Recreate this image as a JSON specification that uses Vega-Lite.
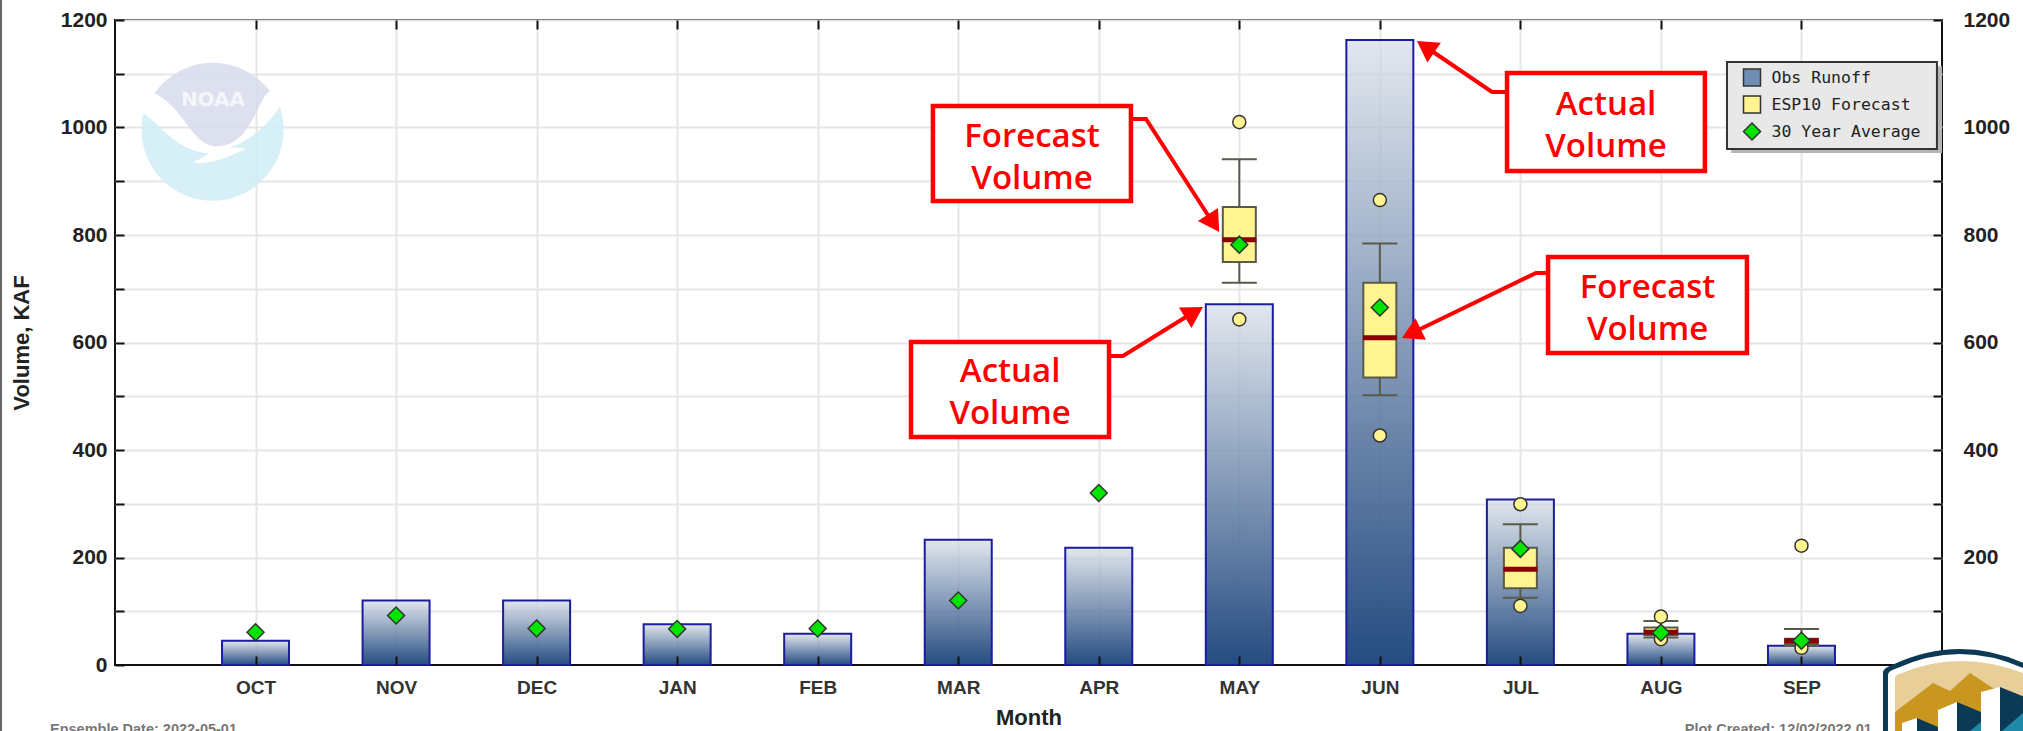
{
"$schema":"https://vega.github.io/schema/vega-lite/v6.json",
"width":1827,"height":645,
"autosize":"none",
"padding":{"left":115,"top":20,"right":81,"bottom":66},
"background":"white",
"config":{"view":{"stroke":"#111","strokeWidth":2,"fill":"white"},"scale":{"continuousPadding":0}},
"datasets":{
"runoff":[
{"month":"OCT","m":1,"v":45,"series":"Obs Runoff"},{"month":"NOV","m":2,"v":120,"series":"Obs Runoff"},{"month":"DEC","m":3,"v":120,"series":"Obs Runoff"},{"month":"JAN","m":4,"v":76,"series":"Obs Runoff"},{"month":"FEB","m":5,"v":58,"series":"Obs Runoff"},{"month":"MAR","m":6,"v":233,"series":"Obs Runoff"},{"month":"APR","m":7,"v":218,"series":"Obs Runoff"},{"month":"MAY","m":8,"v":671,"series":"Obs Runoff"},{"month":"JUN","m":9,"v":1163,"series":"Obs Runoff"},{"month":"JUL","m":10,"v":308,"series":"Obs Runoff"},{"month":"AUG","m":11,"v":58,"series":"Obs Runoff"},{"month":"SEP","m":12,"v":36,"series":"Obs Runoff"}],
"average":[
{"month":"OCT","m":1,"v":61,"series":"30 Year Average"},{"month":"NOV","m":2,"v":92,"series":"30 Year Average"},{"month":"DEC","m":3,"v":68,"series":"30 Year Average"},{"month":"JAN","m":4,"v":67,"series":"30 Year Average"},{"month":"FEB","m":5,"v":68,"series":"30 Year Average"},{"month":"MAR","m":6,"v":120,"series":"30 Year Average"},{"month":"APR","m":7,"v":320,"series":"30 Year Average"},{"month":"MAY","m":8,"v":782,"series":"30 Year Average"},{"month":"JUN","m":9,"v":665,"series":"30 Year Average"},{"month":"JUL","m":10,"v":216,"series":"30 Year Average"},{"month":"AUG","m":11,"v":60,"series":"30 Year Average"},{"month":"SEP","m":12,"v":45,"series":"30 Year Average"}],
"forecast":[
{"month":"MAY","m":8,"hi":1010,"whi":941,"q3":852,"v":791,"q1":750,"wlo":711,"lo":643,"series":"ESP10 Forecast"},
{"month":"JUN","m":9,"hi":865,"whi":784,"q3":711,"v":609,"q1":535,"wlo":502,"lo":427,"series":"ESP10 Forecast"},
{"month":"JUL","m":10,"hi":299,"whi":262,"q3":218,"v":178,"q1":143,"wlo":125,"lo":110,"series":"ESP10 Forecast"},
{"month":"AUG","m":11,"hi":90,"whi":82,"q3":70,"v":61,"q1":56,"wlo":51,"lo":48,"series":"ESP10 Forecast"},
{"month":"SEP","m":12,"hi":222,"whi":67,"q3":49,"v":45,"q1":39,"wlo":36,"lo":32,"series":"ESP10 Forecast"}],
"notes":[
{"m":5.82,"m2":7.229,"v":1040,"v2":863.3,"cx":6.525,"cy":983,"label":"Forecast\nVolume"},
{"m":5.664,"m2":7.073,"v":600.9,"v2":424.2,"cx":6.369,"cy":545.5,"label":"Actual\nVolume"},
{"m":9.905,"m2":11.313,"v":1101.4,"v2":919,"cx":10.609,"cy":1042,"label":"Actual\nVolume"},
{"m":10.197,"m2":11.612,"v":759,"v2":580.5,"cx":10.905,"cy":702,"label":"Forecast\nVolume"}],
"arrows":[
{"id":1,"o":1,"m":7.229,"v":1015.8},{"id":1,"o":2,"m":7.336,"v":1015.8},{"id":1,"o":3,"m":7.813,"v":822.3},
{"id":2,"o":1,"m":7.073,"v":574.9},{"id":2,"o":2,"m":7.172,"v":574.9},{"id":2,"o":3,"m":7.677,"v":656.7},
{"id":3,"o":1,"m":10.197,"v":729.3},{"id":3,"o":2,"m":10.111,"v":729.3},{"id":3,"o":3,"m":9.222,"v":616.7},
{"id":4,"o":1,"m":9.904,"v":1066},{"id":4,"o":2,"m":9.798,"v":1066},{"id":4,"o":3,"m":9.328,"v":1149.8}],
"heads":[
{"m":7.817,"v":821.8,"heading":147},{"m":7.678,"v":656,"heading":58.5},{"m":9.224,"v":616.7,"heading":244.2},{"m":9.325,"v":1150.1,"heading":304.2}]
},
"encoding":{
"x":{"field":"m","type":"quantitative","scale":{"domain":[0,13],"nice":false,"zero":false},"axis":null},
"y":{"field":"v","type":"quantitative","scale":{"domain":[0,1200],"nice":false,"zero":false},"axis":null}
},
"resolve":{"axis":{"x":"independent","y":"independent"}},
"layer":[
{"data":{"values":[{"m":-0.811,"v":-124,"v2":1238}]},"mark":{"type":"rule","color":"#666","strokeWidth":2,"clip":false},"encoding":{"y2":{"field":"v2"}}},
{"data":{"values":[{"m":0.697,"v":989.8}]},"mark":{"type":"point","filled":true,"opacity":0.85,"color":"#d0ecf5","size":20164,"shape":"M-.98,-.27 C-.75,-.15 -.55,.25 -.05,.29 L-.28,.42 C-.05,.45 .2,.35 .47,.22 L.25,.2 C.55,.1 .8,-.15 .94,-.37 A1,1 0 1 1 -.98,-.27 Z"},"encoding":{}},
{"data":{"values":[{"m":0.697,"v":989.8}]},"mark":{"type":"point","filled":true,"opacity":0.85,"color":"#d7dcec","size":20164,"shape":"M-.82,-.56 A1,1 0 0 1 .8,-.59 C.6,-.45 .55,.18 .05,.19 C-.3,.18 -.4,-.35 -.82,-.56 Z"},"encoding":{}},
{"data":{"values":[{"m":0.697,"v":1051,"label":"NOAA"}]},"mark":{"type":"text","font":"DejaVu Sans","fontWeight":"bold","fontSize":20,"color":"#f5f6fa"},"encoding":{"text":{"field":"label"}}},
{"data":{"name":"runoff"},"mark":{"type":"bar","orient":"vertical","size":67,"fill":"white","opacity":0.65},
 "encoding":{
  "x":{"field":"m","type":"quantitative","scale":{"domain":[0,13],"nice":false,"zero":false},
   "axis":{"orient":"bottom","title":null,"values":[1,2,3,4,5,6,7,8,9,10,11,12],"labels":false,"ticks":false,"domain":false,"grid":true,"gridColor":"#e6e6e6","gridWidth":2,"zindex":0}},
  "y":{"field":"v","type":"quantitative","stack":null,"scale":{"domain":[0,1200],"nice":false,"zero":false},
   "axis":{"orient":"left","title":null,"values":[100,200,300,400,500,600,700,800,900,1000,1100,1200],"labels":false,"ticks":false,"domain":false,"grid":true,"gridColor":"#e6e6e6","gridWidth":2,"zindex":0}}
 }},
{"data":{"name":"runoff"},
 "mark":{"type":"bar","orient":"vertical","size":67,"stroke":"#1c1ca0","strokeWidth":2,"fill":{"gradient":"linear","x1":0,"y1":0,"x2":0,"y2":1,"stops":[{"offset":0,"color":"rgba(30,70,125,0.13)"},{"offset":1,"color":"rgba(30,70,125,0.97)"}]}},
 "encoding":{
  "x":{"field":"m","type":"quantitative","scale":{"domain":[0,13],"nice":false,"zero":false},
   "axis":{"orient":"bottom","title":"Month","titleFont":"Liberation Sans","titleFontSize":22,"titleFontWeight":"bold","titleColor":"#222","titlePadding":10,"values":[1,2,3,4,5,6,7,8,9,10,11,12],"labelExpr":"['','OCT','NOV','DEC','JAN','FEB','MAR','APR','MAY','JUN','JUL','AUG','SEP'][datum.value]","labelFont":"Liberation Sans","labelFontSize":19,"labelFontWeight":"bold","labelColor":"#333","labelPadding":22,"tickSize":-9,"tickWidth":2,"tickColor":"#111","domain":false,"grid":false,"zindex":1}},
  "y":{"field":"v","type":"quantitative","stack":null,"scale":{"domain":[0,1200],"nice":false,"zero":false},
   "axis":{"orient":"left","title":"Volume, KAF","titleFont":"Liberation Sans","titleFontSize":22,"titleFontWeight":"bold","titleColor":"#222","titlePadding":27,"values":[0,100,200,300,400,500,600,700,800,900,1000,1100,1200],"labelExpr":"datum.value%200==0?datum.value:''","labelFont":"Liberation Sans","labelFontSize":21,"labelFontWeight":"bold","labelColor":"#222","labelPadding":17,"tickSize":-9,"tickWidth":2,"tickColor":"#111","domain":false,"grid":false,"zindex":1}}
 }},
{"data":{"name":"forecast"},"mark":{"type":"rule","color":"#5a5a48","strokeWidth":2,"opacity":1},
 "encoding":{
  "x":{"field":"m","type":"quantitative","scale":{"domain":[0,13],"nice":false,"zero":false},
   "axis":{"orient":"top","title":null,"values":[1,2,3,4,5,6,7,8,9,10,11,12],"labels":false,"tickSize":-9,"tickWidth":2,"tickColor":"#111","domain":false,"grid":false,"zindex":1}},
  "y":{"field":"wlo","type":"quantitative","scale":{"domain":[0,1200],"nice":false,"zero":false},
   "axis":{"orient":"right","title":null,"values":[100,200,300,400,500,600,700,800,900,1000,1100,1200],"labelExpr":"datum.value%200==0?datum.value:''","labelFont":"Liberation Sans","labelFontSize":21,"labelFontWeight":"bold","labelColor":"#222","labelPadding":30,"tickSize":-9,"tickWidth":2,"tickColor":"#111","tickOpacity":{"condition":{"test":"datum.value==1000||datum.value==1100","value":0},"value":1},"domain":false,"grid":false,"zindex":1}},
  "y2":{"field":"whi"}}},
{"data":{"name":"forecast"},"mark":{"type":"tick","orient":"horizontal","size":35,"thickness":2,"color":"#5a5a48","opacity":1},"encoding":{"y":{"field":"whi","type":"quantitative","scale":{"domain":[0,1200],"nice":false,"zero":false},"axis":null}}},
{"data":{"name":"forecast"},"mark":{"type":"tick","orient":"horizontal","size":35,"thickness":2,"color":"#5a5a48","opacity":1},"encoding":{"y":{"field":"wlo","type":"quantitative","scale":{"domain":[0,1200],"nice":false,"zero":false},"axis":null}}},
{"data":{"name":"forecast"},"mark":{"type":"bar","orient":"vertical","size":33,"fill":"#fff48f","stroke":"#5a5a48","strokeWidth":2,"opacity":1},
 "encoding":{"y":{"field":"q1","type":"quantitative","stack":null,"scale":{"domain":[0,1200],"nice":false,"zero":false},"axis":null},"y2":{"field":"q3"}}},
{"data":{"name":"forecast"},"mark":{"type":"tick","orient":"horizontal","size":34,"thickness":5,"color":"#8b0000","opacity":1},"encoding":{}},
{"data":{"name":"forecast"},"mark":{"type":"point","shape":"circle","filled":true,"opacity":1,"size":170,"fill":"#fff48f","stroke":"#333","strokeWidth":1.5},"encoding":{"y":{"field":"hi","type":"quantitative","scale":{"domain":[0,1200],"nice":false,"zero":false},"axis":null}}},
{"data":{"name":"forecast"},"mark":{"type":"point","shape":"circle","filled":true,"opacity":1,"size":170,"fill":"#fff48f","stroke":"#333","strokeWidth":1.5},"encoding":{"y":{"field":"lo","type":"quantitative","scale":{"domain":[0,1200],"nice":false,"zero":false},"axis":null}}},
{"data":{"values":[{"m":11.5,"m2":13,"v":1114,"v2":952.6}]},"mark":{"type":"rect","color":"#b5b5b5"},"encoding":{"x2":{"field":"m2"},"y2":{"field":"v2"}}},
{"data":{"values":[{"m":11.47,"m2":12.964,"v":1121.9,"v2":960}]},"mark":{"type":"rect","fill":"#e8e8e8","stroke":"#333","strokeWidth":2},"encoding":{"x2":{"field":"m2"},"y2":{"field":"v2"}}},
{"data":{"name":"average"},"mark":{"type":"point","filled":true,"opacity":1,"size":289,"stroke":"#333","strokeWidth":1.5},
 "encoding":{
  "fill":{"field":"series","type":"nominal","scale":{"domain":["Obs Runoff","ESP10 Forecast","30 Year Average"],"range":["#6f8db3","#fff48f","#00e400"]},
   "legend":{"orient":"none","legendX":1627.5,"legendY":48,"title":null,"padding":0,"labelFont":"DejaVu Sans Mono","labelFontSize":16.5,"labelColor":"#222","symbolSize":289,"rowPadding":4,"labelOffset":10,"zindex":1,"encode":{"symbols":{"update":{"stroke":{"value":"#222"},"strokeWidth":{"value":1.5},"opacity":{"value":1}}}}}},
  "shape":{"field":"series","type":"nominal","scale":{"domain":["Obs Runoff","ESP10 Forecast","30 Year Average"],"range":["square","square","diamond"]},
   "legend":{"orient":"none","legendX":1627.5,"legendY":48,"title":null,"padding":0,"labelFont":"DejaVu Sans Mono","labelFontSize":16.5,"labelColor":"#222","symbolSize":289,"rowPadding":4,"labelOffset":10,"zindex":1,"encode":{"symbols":{"update":{"stroke":{"value":"#222"},"strokeWidth":{"value":1.5},"opacity":{"value":1}}}}}}}},
{"data":{"name":"arrows"},"mark":{"type":"line","color":"#ff0000","strokeWidth":4,"strokeJoin":"miter"},"encoding":{"detail":{"field":"id"},"order":{"field":"o"}}},
{"data":{"name":"heads"},"mark":{"type":"point","shape":"triangle-up","filled":true,"opacity":1,"color":"#ff0000","size":576},"encoding":{"angle":{"field":"heading","type":"quantitative","scale":null}}},
{"data":{"name":"notes"},"mark":{"type":"rect","fill":"white","stroke":"#ff0000","strokeWidth":4.5},"encoding":{"x2":{"field":"m2"},"y2":{"field":"v2"}}},
{"data":{"name":"notes"},"mark":{"type":"text","font":"Open Sans","fontSize":33,"fontWeight":600,"color":"#ff0000","lineBreak":"\n","lineHeight":42,"align":"center","baseline":"middle"},
 "encoding":{"x":{"field":"cx","type":"quantitative","scale":{"domain":[0,13],"nice":false,"zero":false},"axis":null},"y":{"field":"cy","type":"quantitative","scale":{"domain":[0,1200],"nice":false,"zero":false},"axis":null},"text":{"field":"label"}}},
{"data":{"values":[{"m":-0.4625,"v":-128.4,"label":"Ensemble Date: 2022-05-01"},{"m":11.17,"v":-128.4,"label":"Plot Created: 12/02/2022 01"}]},"mark":{"type":"text","font":"Liberation Sans","fontSize":14.5,"fontWeight":"bold","color":"#777","align":"left","baseline":"alphabetic"},"encoding":{"text":{"field":"label"}}},
{"data":{"values":[{"m":13.128,"v":-46.5}]},"mark":{"type":"point","filled":true,"opacity":1,"color":"#0c3a54","size":40000,"shape":"M-.77,.5 L-.77,-.17 Q-.77,-.22 -.68,-.25 Q0,-.57 .68,-.25 Q.8,-.22 .8,-.17 L.8,.5 Z"},"encoding":{}},
{"data":{"values":[{"m":13.128,"v":-46.5}]},"mark":{"type":"point","filled":true,"opacity":1,"color":"#ffffff","size":40000,"shape":"M-.72,.5 L-.72,-.15 Q-.72,-.19 -.65,-.21 Q0,-.51 .65,-.21 Q.75,-.19 .75,-.15 L.75,.5 Z"},"encoding":{}},
{"data":{"values":[{"m":13.128,"v":-46.5}]},"mark":{"type":"point","filled":true,"opacity":1,"color":"#e8cf9a","size":40000,"shape":"M-.65,.3 L-.65,-.12 Q-.65,-.15 -.58,-.17 Q0,-.41 .63,-.17 L.75,-.1 L.75,.5 Z"},"encoding":{}},
{"data":{"values":[{"m":13.128,"v":-46.5}]},"mark":{"type":"point","filled":true,"opacity":1,"color":"#c9971f","size":40000,"shape":"M-.65,.22 L-.27,-.07 L-.10,.01 L.10,-.17 L.36,0 L.36,.5 L-.65,.5 Z"},"encoding":{}},
{"data":{"values":[{"m":13.128,"v":-46.5}]},"mark":{"type":"point","filled":true,"opacity":1,"color":"#ffffff","size":40000,"shape":"M.21,.02 L.40,-.03 L.40,.5 L.21,.5 Z M-.22,.2 L-.03,.12 L-.03,.5 L-.22,.5 Z M-.58,.33 L-.43,.28 L-.43,.5 L-.58,.5 Z"},"encoding":{}},
{"data":{"values":[{"m":13.128,"v":-46.5}]},"mark":{"type":"point","filled":true,"opacity":1,"color":"#0c3a54","size":40000,"shape":"M.40,-.03 L.75,.11 L.75,.5 L.40,.5 Z M-.03,.12 L.21,.22 L.21,.5 L-.03,.5 Z M-.43,.28 L-.22,.37 L-.22,.5 L-.43,.5 Z"},"encoding":{}},
{"data":{"values":[{"m":13.128,"v":-46.5}]},"mark":{"type":"point","filled":true,"opacity":1,"color":"#1f8aa8","size":40000,"shape":"M.63,.23 L.75,.13 L.75,.5 L.42,.5 L.42,.41 Z M.21,.32 L.10,.41 L.10,.5 L.21,.5 Z"},"encoding":{}}
]
}
